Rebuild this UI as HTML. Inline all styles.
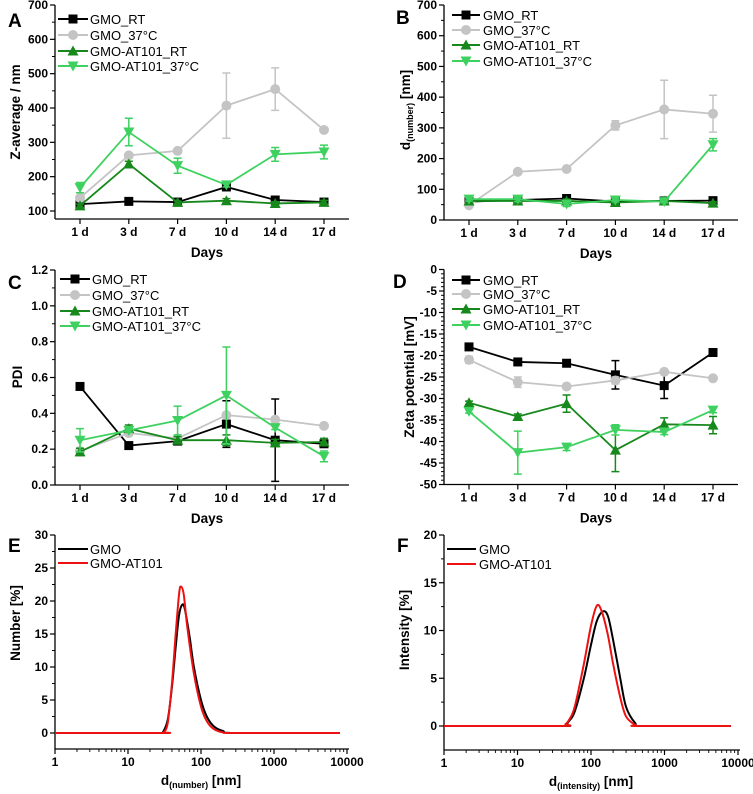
<!DOCTYPE html>
<html><head><meta charset="utf-8">
<style>
html,body{margin:0;padding:0;background:#fff;}
svg{display:block;font-family:"Liberation Sans",Arial,sans-serif;}
.tl{font-size:12px;font-weight:bold;fill:#000;}
.tt{font-size:13.5px;font-weight:bold;fill:#000;}
.lg{font-size:13px;fill:#000;}
.pl{font-size:19px;font-weight:bold;fill:#000;}
</style></head>
<body>
<svg id="fig" width="753" height="794" viewBox="0 0 753 794"></svg>
<script>
const days = ["1 d","3 d","7 d","10 d","14 d","17 d"];
const seriesNames = ["GMO_RT","GMO_37°C","GMO-AT101_RT","GMO-AT101_37°C"];
// Panel A: Z-average
const aRT = [120,128,126,170,132,126];
const aRTerr = [4,4,4,8,5,4];
const a37 = [138,262,275,407,455,336];
const a37err = [8,6,6,95,62,4];
const aATRT = [115,237,125,130,122,125];
const aATRTerr = [5,8,4,6,5,6];
const aAT37 = [168,330,232,176,265,272];
const aAT37err = [15,40,22,6,20,20];
// Panel B: d(number)
const bRT = [60,65,70,60,62,63];
const bRTerr = [4,4,4,4,4,4];
const b37 = [48,157,166,308,360,346];
const b37err = [6,6,6,15,95,60];
const bATRT = [62,62,62,57,62,55];
const bATRTerr = [6,6,6,6,4,4];
const bAT37 = [68,68,52,65,60,245];
const bAT37err = [6,8,8,6,4,20];
// Panel C: PDI
const cRT = [0.55,0.22,0.245,0.34,0.25,0.23];
const cRTerr = [0.01,0.01,0.02,0.13,0.23,0.01];
const c37 = [0.19,0.29,0.26,0.39,0.365,0.33];
const c37err = [0.01,0.01,0.01,0.01,0.01,0.01];
const cATRT = [0.185,0.315,0.25,0.25,0.235,0.24];
const cATRTerr = [0.02,0.02,0.02,0.03,0.02,0.02];
const cAT37 = [0.25,0.305,0.36,0.5,0.32,0.16];
const cAT37err = [0.065,0.01,0.08,0.27,0.01,0.03];
// Panel D: zeta potential
const dRT = [-18,-21.5,-21.8,-24.5,-27,-19.3];
const dRTerr = [0.4,0.5,0.8,3.3,3,0.6];
const d37 = [-21,-26.2,-27.2,-25.8,-23.8,-25.3];
const d37err = [0.8,1.2,0.4,0.8,0.4,0.4];
const dATRT = [-31,-34.2,-31.2,-42,-36,-36.2];
const dATRTerr = [0.4,0.6,2,5,1.5,2];
const dAT37 = [-33,-42.6,-41.3,-37.3,-37.8,-32.7];
const dAT37err = [0.4,5,0.8,1.2,0.6,0.6];
// Panel E: number distribution (size nm, %)
const eSizes = [1,28,30,35,40,45,50,55,60,70,80,100,120,150,200,300,8000];
const eGMO = [0,0,0.1,2,7,13,17.8,19.4,18.8,14.5,10,5,2.5,1,0.3,0,0];
const eATSizes = [1,29,31,35,40,45,50,53,58,65,80,100,120,150,200,300,8000];
const eAT = [0,0,0.1,1.5,7.5,15,21,22.2,21,16,9,4,1.8,0.6,0.1,0,0];
// Panel F: intensity distribution
const fSizes = [1,38,45,50,60,80,100,120,145,170,200,250,300,400,500,8000];
const fGMO = [0,0,0.1,0.5,1.5,5,8.5,11,12,11.5,9,5,2,0.3,0,0];
const fATSizes = [1,38,45,50,60,80,100,120,140,170,200,250,300,400,450,8000];
const fAT = [0,0,0.2,0.6,2,6.5,10.5,12.6,12,9.5,6.5,3,1,0.1,0,0];

const NS="http://www.w3.org/2000/svg";
const svg=document.getElementById('fig');
function mk(tag,attrs,parent){const e=document.createElementNS(NS,tag);for(const k in attrs)e.setAttribute(k,attrs[k]);(parent||svg).appendChild(e);return e;}
const colors=["#000000","#c4c4c4","#17891c","#3fd160"];
const markers=["square","circle","tri","tridown"];

function marker(g,type,x,y,c){
  const s=4.5;
  if(type==="square") return mk('rect',{x:x-s,y:y-s,width:2*s,height:2*s,fill:c},g);
  if(type==="circle") return mk('circle',{cx:x,cy:y,r:s+0.5,fill:c},g);
  if(type==="tri") return mk('polygon',{points:`${x},${y-s-1} ${x-s-1},${y+s} ${x+s+1},${y+s}`,fill:c},g);
  return mk('polygon',{points:`${x},${y+s+1} ${x-s-1},${y-s} ${x+s+1},${y-s}`,fill:c},g);
}

function yAxis(g,ax,ypx,ticks,minors,fmt,top,bottom){
  mk('line',{x1:ax,y1:top,x2:ax,y2:bottom,stroke:'#000','stroke-width':1.3},g);
  ticks.forEach(v=>{const y=ypx(v);
    const t=mk('line',{x1:ax-5,y1:y,x2:ax,y2:y,stroke:'#000','stroke-width':1.2},g);
    
    const l=mk('text',{x:ax-7,y:y+4,'text-anchor':'end',class:'tl'},g);l.textContent=fmt(v);
    });
  minors.forEach(v=>{const y=ypx(v);mk('line',{x1:ax-3,y1:y,x2:ax,y2:y,stroke:'#000','stroke-width':1},g);});
}

function legend(g,x1,x2,tx,ys,names,cols,mks){
  names.forEach((n,i)=>{
    const le=mk('g',{},g);
    mk('line',{x1:x1,y1:ys[i],x2:x2,y2:ys[i],stroke:cols[i],'stroke-width':2},le);
    if(mks) marker(le,mks[i],(x1+x2)/2,ys[i],cols[i]);
    const t=mk('text',{x:tx,y:ys[i]+5,class:'lg'},le);t.textContent=n;
  });
}

function catPanel(cfg,data,errs){
  const g=mk('g',{});
  const xpx=i=>cfg.xFirst+i*48.8;
  const ypx=v=>cfg.pTop+(cfg.vTop-v)/(cfg.vTop-cfg.vBot)*(cfg.pBot-cfg.pTop);
  yAxis(g,cfg.ax,ypx,cfg.ticks,cfg.minors,cfg.fmt,cfg.axTop,cfg.axBottom);
  mk('line',{x1:cfg.ax,y1:cfg.axBottom,x2:cfg.axRight,y2:cfg.axBottom,stroke:'#000','stroke-width':1.3},g);
  days.forEach((d,i)=>{const x=xpx(i);
    mk('line',{x1:x,y1:cfg.axBottom,x2:x,y2:cfg.axBottom+5,stroke:'#000','stroke-width':1.2},g);
    const t=mk('text',{x:x,y:cfg.axBottom+17,'text-anchor':'middle',class:'tl'},g);t.textContent=d;
    });
  const xt=mk('text',{x:(cfg.ax+cfg.axRight)/2+5,y:cfg.axBottom+38,'text-anchor':'middle',class:'tt'},g);xt.textContent='Days';
  
  const yt=mk('text',{x:0,y:0,'text-anchor':'middle',class:'tt',transform:`translate(${cfg.ytx},${cfg.yty}) rotate(-90)`},g);
  yt.innerHTML=cfg.ytitle;
  
  const pl=mk('text',{x:cfg.lx,y:cfg.ly,class:'pl'},g);pl.textContent=cfg.letter;
  
  data.forEach((arr,s)=>{
    const sg=mk('g',{},g);
    const pts=arr.map((v,i)=>xpx(i)+','+ypx(v)).join(' ');
    mk('polyline',{points:pts,fill:'none',stroke:colors[s],'stroke-width':1.8},sg);
    arr.forEach((v,i)=>{const x=xpx(i),e=errs[s][i];
      const eb=mk('path',{d:`M${x},${ypx(v-e)}V${ypx(v+e)}M${x-4},${ypx(v-e)}H${x+4}M${x-4},${ypx(v+e)}H${x+4}`,stroke:colors[s],'stroke-width':1.5,fill:'none'},sg);
      
      const m=marker(sg,markers[s],x,ypx(v),colors[s]);
      
    });
  });
  legend(g,cfg.lg[0],cfg.lg[1],cfg.lg[2],cfg.lgY,seriesNames,colors,markers);
}

function range(a,b,s){const r=[];for(let v=a;v<=b+1e-9;v+=s)r.push(+v.toFixed(4));return r;}

catPanel({name:'panel-a',ax:55,axRight:349,axTop:5,axBottom:219,xFirst:80,pTop:5,pBot:211,vTop:700,vBot:100,
  ticks:range(100,700,100),minors:range(150,650,100),fmt:v=>String(v),
  ytitle:'Z-average / nm',ytx:20,yty:112,letter:'A',lx:8,ly:27,lg:[58,88,90],lgY:[19,35,51,66]},
  [aRT,a37,aATRT,aAT37],[aRTerr,a37err,aATRTerr,aAT37err]);
catPanel({name:'panel-b',ax:444,axRight:738,axTop:5,axBottom:220,xFirst:469,pTop:5,pBot:220,vTop:700,vBot:0,
  ticks:range(0,700,100),minors:range(50,650,100),fmt:v=>String(v),
  ytitle:'d<tspan font-size="9" dy="3">(number)</tspan><tspan dy="-3"> [nm]</tspan>',ytx:410,yty:110,letter:'B',lx:396,ly:24,lg:[452,480,483],lgY:[15,30,45,61]},
  [bRT,b37,bATRT,bAT37],[bRTerr,b37err,bATRTerr,bAT37err]);
catPanel({name:'panel-c',ax:55,axRight:349,axTop:270,axBottom:485,xFirst:80,pTop:270,pBot:485,vTop:1.2,vBot:0,
  ticks:range(0,1.2,0.2),minors:range(0.1,1.1,0.2),fmt:v=>v.toFixed(1),
  ytitle:'PDI',ytx:22,yty:377,letter:'C',lx:8,ly:289,lg:[60,90,92],lgY:[279,295,311,326]},
  [cRT,c37,cATRT,cAT37],[cRTerr,c37err,cATRTerr,cAT37err]);
catPanel({name:'panel-d',ax:444,axRight:738,axTop:269.5,axBottom:484.5,xFirst:469,pTop:269.5,pBot:484.5,vTop:0,vBot:-50,
  ticks:range(-50,0,5),minors:range(-49,-1,1).filter(v=>v%5!==0),fmt:v=>String(v),
  ytitle:'Zeta potential [mV]',ytx:414,yty:377,letter:'D',lx:393,ly:288,lg:[452,480,483],lgY:[280,294,309,325]},
  [dRT,d37,dATRT,dAT37],[dRTerr,d37err,dATRTerr,dAT37err]);

function logPanel(cfg,curves){
  const g=mk('g',{});
  const xpx=s=>cfg.ax+Math.log10(s)*cfg.dec;
  const ypx=v=>cfg.pTop+(cfg.vTop-v)/cfg.vTop*(cfg.pZero-cfg.pTop);
  yAxis(g,cfg.ax,ypx,range(0,cfg.vTop,5),range(2.5,cfg.vTop-2.5,5),v=>String(v),cfg.pTop,cfg.axBottom);
  mk('line',{x1:cfg.ax,y1:cfg.axBottom,x2:cfg.ax+4*cfg.dec+2,y2:cfg.axBottom,stroke:'#000','stroke-width':1.3},g);
  ["1","10","100","1000","10000"].forEach((lab,k)=>{const x=cfg.ax+k*cfg.dec;
    mk('line',{x1:x,y1:cfg.axBottom,x2:x,y2:cfg.axBottom+5,stroke:'#000','stroke-width':1.2},g);
    const t=mk('text',{x:x,y:cfg.axBottom+17,'text-anchor':'middle',class:'tl'},g);t.textContent=lab;
    
    if(k<4)for(let m=2;m<10;m++){const xm=xpx(Math.pow(10,k)*m);mk('line',{x1:xm,y1:cfg.axBottom,x2:xm,y2:cfg.axBottom+3,stroke:'#000','stroke-width':0.9},g);}
  });
  const xt=mk('text',{x:cfg.ax+2*cfg.dec,y:cfg.axBottom+36,'text-anchor':'middle',class:'tt'},g);
  xt.innerHTML=`d<tspan font-size="9" dy="3">(${cfg.sub})</tspan><tspan dy="-3"> [nm]</tspan>`;
  
  const yt=mk('text',{x:0,y:0,'text-anchor':'middle',class:'tt',transform:`translate(${cfg.ytx},${cfg.yty}) rotate(-90)`},g);
  yt.textContent=cfg.ytitle;
  const pl=mk('text',{x:cfg.lx,y:cfg.ly,class:'pl'},g);pl.textContent=cfg.letter;
  
  const cc=["#000000","#ee1111"];
  curves.forEach((c,s)=>{
    const P=c[0].map((sz,i)=>[xpx(sz),ypx(c[1][i])]);
    let d=`M${P[0][0]},${P[0][1]}`;
    for(let i=0;i<P.length-1;i++){const p0=P[Math.max(0,i-1)],p1=P[i],p2=P[i+1],p3=P[Math.min(P.length-1,i+2)];
      const c1x=p1[0]+(p2[0]-p0[0])/6,c1y=p1[1]+(p2[1]-p0[1])/6,c2x=p2[0]-(p3[0]-p1[0])/6,c2y=p2[1]-(p3[1]-p1[1])/6;
      d+=`C${c1x},${Math.min(c1y,ypx(0))} ${c2x},${Math.min(c2y,ypx(0))} ${p2[0]},${p2[1]}`;}
    const pa=mk('path',{d:d,fill:'none',stroke:cc[s],'stroke-width':2},g);
    
  });
  legend(g,cfg.lg[0],cfg.lg[1],cfg.lg[2],cfg.lgY,["GMO","GMO-AT101"],cc,null);
}
logPanel({name:'panel-e',ax:55,dec:73,pTop:535,pZero:733,vTop:30,axBottom:749,sub:'number',
  ytitle:'Number [%]',ytx:20,yty:623,letter:'E',lx:8,ly:552,lg:[58,88,90],lgY:[549,563]},
  [[eSizes,eGMO],[eATSizes,eAT]]);
logPanel({name:'panel-f',ax:444,dec:73.5,pTop:535,pZero:726,vTop:20,axBottom:750,sub:'intensity',
  ytitle:'Intensity [%]',ytx:409,yty:630,letter:'F',lx:397,ly:552,lg:[447,476,479],lgY:[549,564]},
  [[fSizes,fGMO],[fATSizes,fAT]]);
</script>
</body></html>
